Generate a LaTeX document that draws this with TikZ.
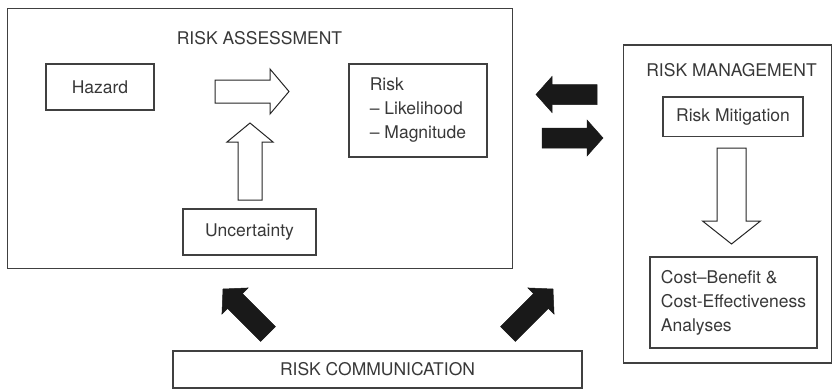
\documentclass[tikz,border=0pt]{standalone}
\usepackage{fontspec}
\setmainfont{TeX Gyre Heros}
\usetikzlibrary{calc}

% block arrow: style, from, to, shaft half width, head half width, head length
\newcommand{\blockarrow}[6]{%
  \coordinate (ba-s) at ($(#3)!#6!(#2)$);
  \draw[#1] ($(#2)!#4!90:(#3)$) -- ($(ba-s)!#4!90:(#3)$) -- ($(ba-s)!#5!90:(#3)$) -- (#3)
    -- ($(ba-s)!#5!-90:(#3)$) -- ($(ba-s)!#4!-90:(#3)$) -- ($(#2)!#4!-90:(#3)$) -- cycle;
}

\begin{document}
\begin{tikzpicture}[x=1pt,y=-1pt,
    font=\fontsize{17.5}{24}\selectfont,text=black!78,
    box/.style={draw=black!75,line width=1.1pt,inner sep=0pt},
    whitearrow/.style={draw=black!85,line width=1pt,fill=white,line join=miter},
    blackarrow/.style={draw=black!90,line width=0.5pt,fill=black!90}]
    \useasboundingbox (0,0) rectangle (833,389);

    % the two large frames
    \node[box,minimum width=505pt,minimum height=260pt] (ra) at (260,138.75) {};
    \node[box,minimum width=208pt,minimum height=318pt] (rm) at (727.25,204) {};
    \node (ratitle) at (259.5,38) {RISK ASSESSMENT};
    \node (rmtitle) at (731.5,70.5) {RISK MANAGEMENT};

    % boxes inside
    \node[box,minimum width=108pt,minimum height=46pt] (haz) at (100,87) {Hazard};
    \node[box,minimum width=138pt,minimum height=93pt,align=left] (risk) at (418,110.5)
        {Risk\\-- Likelihood\\-- Magnitude};
    \node[box,minimum width=133pt,minimum height=46pt] (unc) at (249.5,232) {Uncertainty};
    \node[box,minimum width=140pt,minimum height=39.5pt] (mit) at (733,116.75) {Risk Mitigation};
    \node[box,minimum width=167pt,minimum height=91pt,align=left] (cba) at (733.5,302.5)
        {Cost--Benefit \&\\Cost-Effectiveness\\Analyses};
    \node[box,minimum width=409pt,minimum height=37pt] (comm) at (377.5,369.5) {RISK COMMUNICATION};

    % arrow ends
    \coordinate (haz-a) at (215,91.5);
    \coordinate (risk-a) at (289,91.5);
    \coordinate (unc-a) at (250,200);
    \coordinate (unc-b) at (250,123);
    \coordinate (mit-a) at (731.5,148);
    \coordinate (cba-a) at (731.5,244);
    \coordinate (rm-a) at (597,94.5);
    \coordinate (ra-a) at (536,94.5);
    \coordinate (ra-b) at (542,138);
    \coordinate (rm-b) at (603,138);
    \coordinate (comm-l) at (268,334);
    \coordinate (ra-c) at (223,289);
    \coordinate (comm-r) at (508,334);
    \coordinate (rm-c) at (553,289);

    % hollow arrows
    \blockarrow{whitearrow}{haz-a}{risk-a}{11.5pt}{22.5pt}{19pt}
    \blockarrow{whitearrow}{unc-a}{unc-b}{12pt}{23pt}{19pt}
    \blockarrow{whitearrow}{mit-a}{cba-a}{14.5pt}{29pt}{23pt}

    % black arrows
    \blockarrow{blackarrow}{rm-a}{ra-a}{10pt}{18pt}{16pt}
    \blockarrow{blackarrow}{ra-b}{rm-b}{10pt}{18pt}{16pt}
    \blockarrow{blackarrow}{comm-l}{ra-c}{10.5pt}{18.5pt}{17pt}
    \blockarrow{blackarrow}{comm-r}{rm-c}{10.5pt}{18.5pt}{17pt}
\end{tikzpicture}
\end{document}
